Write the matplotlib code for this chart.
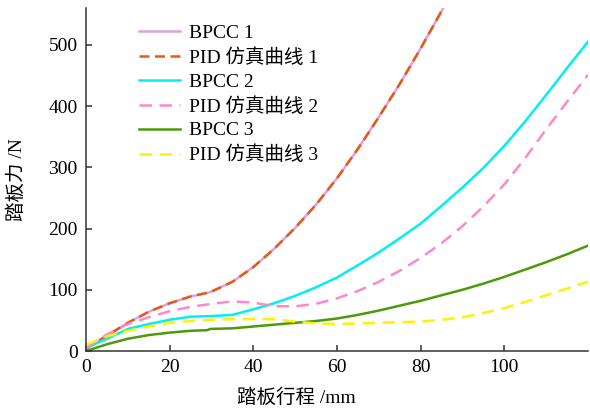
import numpy as np
import matplotlib
matplotlib.use('Agg')
import matplotlib.pyplot as plt

plt.rcParams['font.family'] = ['Liberation Serif', 'Noto Sans CJK SC']
plt.rcParams['axes.unicode_minus'] = False

# pedal travel (mm) / pedal force (N)
x1 = [0, 5, 10, 15, 20, 25, 29, 30, 35, 40, 45, 50, 55, 60, 65, 70, 75, 80, 85, 86]
bpcc1 = [4, 25, 46, 64, 78, 89, 95, 97, 113, 137, 167, 201, 239, 282, 330, 382, 436, 494, 555, 567]
pid1 = [4, 25, 46, 64, 78, 89, 95, 97, 113, 137, 167, 201, 239, 282, 330, 382, 436, 494, 555, 567]

x2 = [0, 5, 10, 15, 20, 25, 30, 35, 40, 45, 50, 55, 60, 65, 70, 75, 80, 85, 90, 95,
      100, 105, 110, 115, 120]
bpcc2 = [5, 20, 36, 44, 51, 56, 57, 59, 68, 78, 90, 104, 120, 140, 161, 184, 208, 237, 267, 299,
         335, 375, 418, 462, 505]
pid2 = [5, 27, 44, 55, 65, 72, 77, 81, 79, 73, 73, 77, 86, 98, 113, 131, 152, 176, 204, 236,
        272, 315, 362, 407, 451]

x3 = [0, 5, 10, 15, 20, 25, 29, 29.6, 35, 40, 45, 50, 55, 60, 65, 70, 75, 80, 85, 90, 95,
      100, 105, 110, 115, 120]
bpcc3 = [0, 11, 20, 26, 30, 33, 34, 36, 37, 40, 43, 46, 49, 53, 59, 66, 74, 82, 91, 100, 110,
         121, 133, 145, 158, 172]
x4 = [0, 5, 10, 15, 20, 25, 30, 35, 40, 45, 50, 55, 60, 65, 70, 75, 80, 85, 90, 95,
      100, 105, 110, 115, 120]
pid3 = [10, 24, 33, 40, 46, 49, 51, 52, 52, 52, 48, 45, 44, 45, 46, 47, 48, 51, 55, 62,
        70, 80, 91, 102, 113]

fig = plt.figure(figsize=(5.9, 4.09), dpi=100)
ax = fig.add_axes([86/590, 58/409, 502/590, 343/409])

lw = 1.8
ax.plot(x1, bpcc1, color='#DDA0EE', lw=lw, label='BPCC 1')
ax.plot(x1, pid1, color='#E85A0C', lw=lw, ls=(0, (4, 2.2)), label='PID 仿真曲线 1')
ax.plot(x2, bpcc2, color='#00F0F0', lw=lw, label='BPCC 2')
ax.plot(x2, pid2, color='#FF88C8', lw=lw, ls=(0, (5, 3)), label='PID 仿真曲线 2')
ax.plot(x3, bpcc3, color='#4C9A0A', lw=lw, label='BPCC 3')
ax.plot(x4, pid3, color='#FFF200', lw=lw, ls=(0, (5, 3)), label='PID 仿真曲线 3')

ax.set_xlim(0, 120)
ax.set_ylim(0, 560)
ax.set_xticks([0, 20, 40, 60, 80, 100])
ax.set_yticks([0, 100, 200, 300, 400, 500])
ax.spines['top'].set_visible(False)
ax.spines['right'].set_visible(False)
for s in ['left', 'bottom']:
    ax.spines[s].set_linewidth(1.1)
    ax.spines[s].set_color('#333333')
ax.tick_params(direction='in', length=4, width=1.1, labelsize=14, pad=6, colors='#333333')
ax.tick_params(labelcolor='black')

ax.set_xlabel('踏板行程 /mm', fontsize=14)
ax.set_ylabel('踏板力 /N', fontsize=14)
ax.xaxis.set_label_coords(0.42, -0.11)
ax.yaxis.set_label_coords(-0.12, 0.5)

ax.legend(loc='upper left', bbox_to_anchor=(0.09, 0.975), frameon=False, fontsize=14,
          handlelength=2.1, handletextpad=0.45, labelspacing=0.32, borderaxespad=0)

fig.savefig('out.png', dpi=100)
